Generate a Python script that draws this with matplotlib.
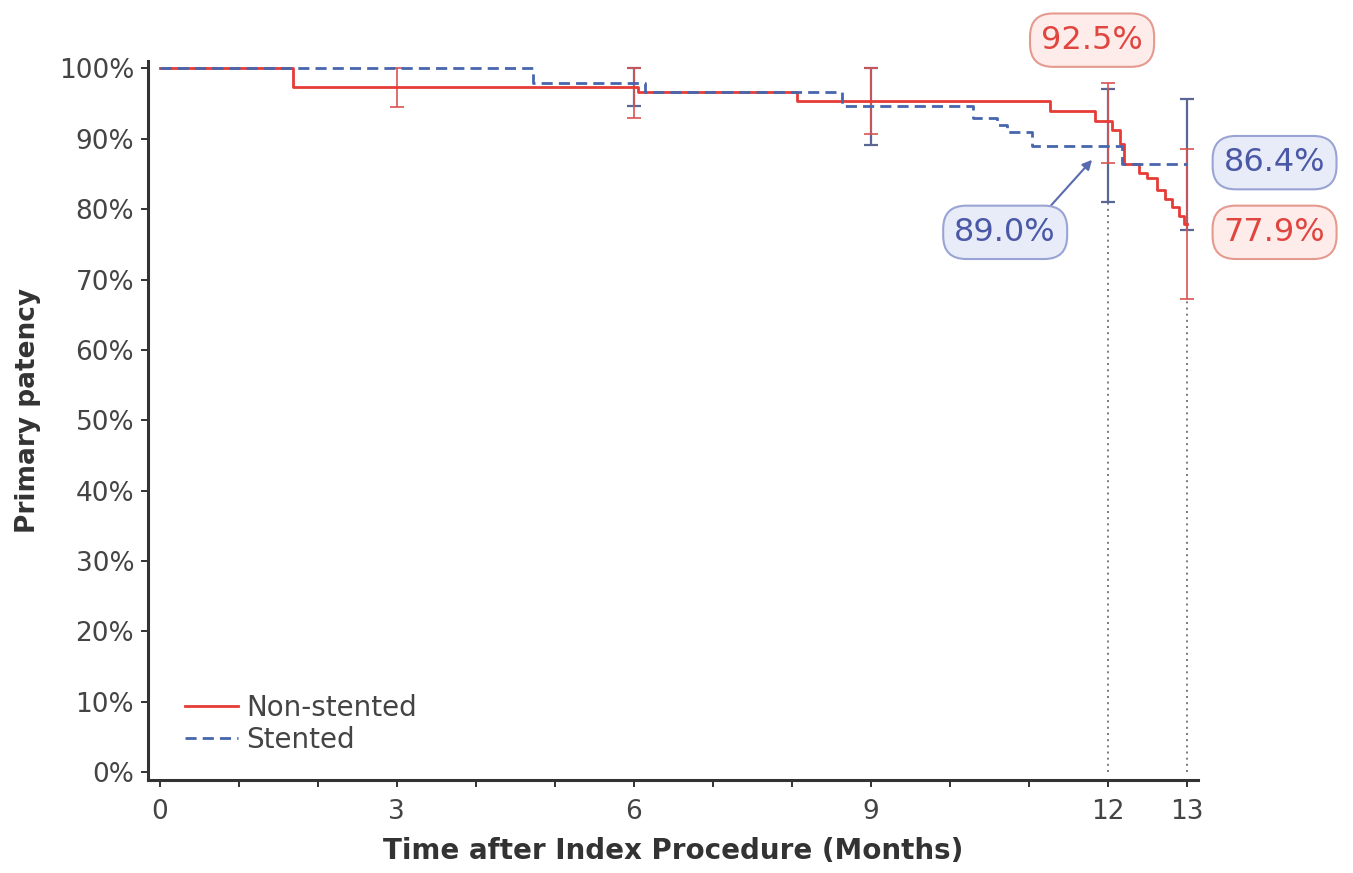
import numpy as np
import matplotlib
matplotlib.use("Agg")
import matplotlib.pyplot as plt
from matplotlib.ticker import FixedLocator, FuncFormatter

# --- datos (meses, % de permeabilidad) ---
red_t = [0, 1.68, 6.05, 8.06, 11.27, 11.84, 12.05, 12.15, 12.2, 12.4, 12.5, 12.62, 12.72, 12.81, 12.9, 12.96, 13.0]
red_s = [100, 97.3, 96.6, 95.3, 93.9, 92.5, 91.3, 89.2, 86.4, 85.1, 84.4, 82.7, 81.5, 80.3, 79.0, 77.9, 77.9]

blue_t = [0, 4.72, 6.14, 8.63, 10.29, 10.6, 10.72, 11.04, 12.18, 13.0]
blue_s = [100, 97.9, 96.6, 94.7, 93.0, 91.9, 90.9, 89.0, 86.4, 86.4]

# intervalos de confianza
red_ci_t = [3, 6, 9, 12, 13]
red_ci_mid = [97.3, 97.3, 95.3, 92.5, 77.9]
red_ci_lo = [94.5, 92.9, 90.6, 86.6, 67.3]
red_ci_hi = [100, 100, 100, 97.9, 88.6]

blue_ci_t = [6, 9, 12, 13]
blue_ci_mid = [97.9, 94.7, 89.0, 86.4]
blue_ci_lo = [94.7, 89.1, 81.0, 77.0]
blue_ci_hi = [100, 100, 97.0, 95.7]

x_ticks = list(range(0, 14))
x_labels = [0, 3, 6, 9, 12, 13]
y_ticks = list(range(0, 101, 10))

RED = "#e63b36"
BLUE = "#4766ad"
RED_BAR = "#d9534f"
BLUE_BAR = "#5a6694"

plt.rcParams["font.family"] = ["DejaVu Sans"]

fig = plt.figure(figsize=(13.53, 8.73), dpi=100)
ax = fig.add_axes([0.1094, 0.1065, 0.7760, 0.8475])

# lineas verticales punteadas en 12 y 13 meses
ax.vlines([12, 13], 0, [blue_ci_lo[2], red_ci_lo[4]], colors="#666666",
          linestyles=(0, (1.2, 2.5)), linewidth=1.2, zorder=1)

# barras de error
ax.errorbar(blue_ci_t, blue_ci_mid,
            yerr=[np.array(blue_ci_mid) - np.array(blue_ci_lo), np.array(blue_ci_hi) - np.array(blue_ci_mid)],
            fmt="none", ecolor=BLUE_BAR, elinewidth=1.6, capsize=5, capthick=1.6, zorder=2)
ax.errorbar(red_ci_t, red_ci_mid,
            yerr=[np.array(red_ci_mid) - np.array(red_ci_lo), np.array(red_ci_hi) - np.array(red_ci_mid)],
            fmt="none", ecolor=RED_BAR, elinewidth=1.4, capsize=5, capthick=1.4, zorder=2, alpha=0.85)

# curvas de Kaplan-Meier
ax.step(red_t, red_s, where="post", color=RED, linewidth=2.0, label="Non-stented", zorder=3)
ax.step(blue_t, blue_s, where="post", color=BLUE, linewidth=2.0, dashes=(4, 2.2), label="Stented", zorder=4)

ax.set_xlim(-0.15, 13.14)
ax.set_ylim(-1.1, 104)

ax.xaxis.set_major_locator(FixedLocator(x_ticks))
ax.xaxis.set_major_formatter(FuncFormatter(lambda v, p: f"{int(v)}" if int(round(v)) in x_labels else ""))
ax.yaxis.set_major_locator(FixedLocator(y_ticks))
ax.yaxis.set_major_formatter(FuncFormatter(lambda v, p: f"{int(v)}%"))

ax.tick_params(axis="both", direction="out", length=5, width=1.4, color="#333333",
               labelsize=19, labelcolor="#444444")
ax.tick_params(axis="x", pad=9)
ax.tick_params(axis="y", pad=5)
ax.spines["top"].set_visible(False)
ax.spines["right"].set_visible(False)
for s in ["left", "bottom"]:
    ax.spines[s].set_linewidth(2.2)
    ax.spines[s].set_color("#333333")
ax.spines["left"].set_bounds(-1.1, 101)

ax.set_xlabel("Time after Index Procedure (Months)", fontsize=20, fontweight="bold", color="#333333", labelpad=8)
ax.set_ylabel("Primary patency", fontsize=19, fontweight="bold", color="#333333", labelpad=13)

leg = ax.legend(loc="lower left", bbox_to_anchor=(0.025, 0.02), frameon=False, fontsize=20,
                handlelength=1.9, handletextpad=0.3, labelspacing=0.15, borderaxespad=0)
for txt in leg.get_texts():
    txt.set_color("#444444")

# etiquetas con recuadro redondeado
red_box = dict(boxstyle="round,pad=0.35,rounding_size=0.72", fc="#fdecea", ec="#e59a90", lw=1.5)
blue_box = dict(boxstyle="round,pad=0.35,rounding_size=0.72", fc="#e8ebf8", ec="#9aa4d4", lw=1.5)

ax.text(11.8, 104, f"{red_ci_mid[3]:.1f}%", color="#e0463f", fontsize=23, ha="center", va="center",
        bbox=red_box, clip_on=False)
ax.text(14.11, 86.6, f"{blue_ci_mid[3]:.1f}%", color="#4a58a6", fontsize=23, ha="center", va="center",
        bbox=blue_box, clip_on=False)
ax.text(14.11, 76.7, f"{red_ci_mid[4]:.1f}%", color="#e0463f", fontsize=23, ha="center", va="center",
        bbox=red_box, clip_on=False)
ax.annotate(f"{blue_ci_mid[2]:.1f}%", xy=(11.8, 87.0), xytext=(10.7, 76.7), color="#4a58a6", fontsize=23,
            ha="center", va="center", bbox=blue_box,
            arrowprops=dict(arrowstyle="-|>", color="#5a6aae", lw=1.5, mutation_scale=14,
                            shrinkA=0, shrinkB=0, relpos=(0.85, 1.0)))

fig.savefig("out.png", dpi=100)
